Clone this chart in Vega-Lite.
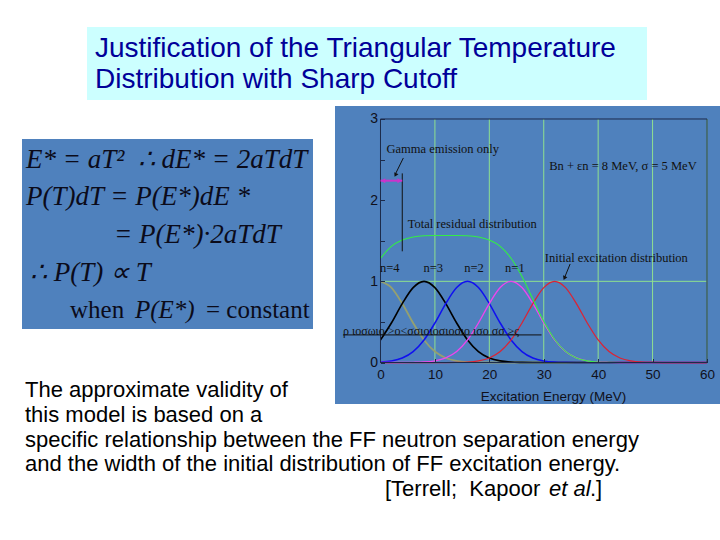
{
  "$schema": "https://vega.github.io/schema/vega-lite/v6.json",
  "background": "white",
  "padding": {"left": 22, "top": 27, "right": 0, "bottom": 0},
  "spacing": 0,
  "config": {"view": {"stroke": null}, "font": "Liberation Sans"},
  "datasets": {
    "title": [
      {"line": 1, "text": "Justification of the Triangular Temperature"},
      {"line": 2, "text": "Distribution with Sharp Cutoff"}
    ],
    "equations": [
      {"line": 1, "part": 1, "text": "E* = aT²\u00a0 ∴ dE* = 2aTdT"},
      {"line": 2, "part": 1, "text": "P(T)dT = P(E*)dE *"},
      {"line": 3, "part": 1, "text": "= P(E*)·2aTdT"},
      {"line": 4, "part": 1, "text": "∴  P(T) ∝ T"},
      {"line": 5, "part": 1, "text": "when"},
      {"line": 5, "part": 2, "text": "P(E*)"},
      {"line": 5, "part": 3, "text": "= constant"}
    ],
    "paragraph": [
      {"line": 1, "part": 1, "text": "The approximate validity of"},
      {"line": 2, "part": 1, "text": "this model is based on a"},
      {"line": 3, "part": 1, "text": "specific relationship between the FF neutron separation energy"},
      {"line": 4, "part": 1, "text": "and the width of the initial distribution of FF excitation energy."},
      {"line": 5, "part": 1, "text": "[Terrell;\u00a0 Kapoor"},
      {"line": 5, "part": 2, "text": "et al"},
      {"line": 5, "part": 3, "text": ".]"}
    ],
    "curves": [
      {"x": 0, "n4": 1, "n3": 0.278, "n2": 0.006, "n1": 0, "init": 0, "total": 1.284},
      {"x": 2, "n4": 0.923, "n3": 0.487, "n2": 0.02, "n1": 0, "init": 0, "total": 1.43},
      {"x": 4, "n4": 0.726, "n3": 0.726, "n2": 0.056, "n1": 0, "init": 0, "total": 1.508},
      {"x": 6, "n4": 0.487, "n3": 0.923, "n2": 0.135, "n1": 0.002, "init": 0, "total": 1.547},
      {"x": 8, "n4": 0.278, "n3": 1, "n2": 0.278, "n1": 0.006, "init": 0, "total": 1.562},
      {"x": 10, "n4": 0.135, "n3": 0.923, "n2": 0.487, "n1": 0.02, "init": 0, "total": 1.565},
      {"x": 12, "n4": 0.056, "n3": 0.726, "n2": 0.726, "n1": 0.056, "init": 0, "total": 1.564},
      {"x": 14, "n4": 0.02, "n3": 0.487, "n2": 0.923, "n1": 0.135, "init": 0.002, "total": 1.565},
      {"x": 16, "n4": 0.006, "n3": 0.278, "n2": 1, "n1": 0.278, "init": 0.006, "total": 1.562},
      {"x": 18, "n4": 0.002, "n3": 0.135, "n2": 0.923, "n1": 0.487, "init": 0.02, "total": 1.547},
      {"x": 20, "n4": 0, "n3": 0.056, "n2": 0.726, "n1": 0.726, "init": 0.056, "total": 1.508},
      {"x": 22, "n4": 0, "n3": 0.02, "n2": 0.487, "n1": 0.923, "init": 0.135, "total": 1.43},
      {"x": 24, "n4": 0, "n3": 0.006, "n2": 0.278, "n1": 1, "init": 0.278, "total": 1.284},
      {"x": 26, "n4": 0, "n3": 0.002, "n2": 0.135, "n1": 0.923, "init": 0.487, "total": 1.06},
      {"x": 28, "n4": 0, "n3": 0, "n2": 0.056, "n1": 0.726, "init": 0.726, "total": 0.782},
      {"x": 30, "n4": 0, "n3": 0, "n2": 0.02, "n1": 0.487, "init": 0.923, "total": 0.507},
      {"x": 32, "n4": 0, "n3": 0, "n2": 0.006, "n1": 0.278, "init": 1, "total": 0.284},
      {"x": 34, "n4": 0, "n3": 0, "n2": 0.002, "n1": 0.135, "init": 0.923, "total": 0.137},
      {"x": 36, "n4": 0, "n3": 0, "n2": 0, "n1": 0.056, "init": 0.726, "total": 0.056},
      {"x": 38, "n4": 0, "n3": 0, "n2": 0, "n1": 0.02, "init": 0.487, "total": 0.02},
      {"x": 40, "n4": 0, "n3": 0, "n2": 0, "n1": 0.006, "init": 0.278, "total": 0.006},
      {"x": 42, "n4": 0, "n3": 0, "n2": 0, "n1": 0.002, "init": 0.135, "total": 0.002},
      {"x": 44, "n4": 0, "n3": 0, "n2": 0, "n1": 0, "init": 0.056, "total": 0},
      {"x": 46, "n4": 0, "n3": 0, "n2": 0, "n1": 0, "init": 0.02, "total": 0},
      {"x": 48, "n4": 0, "n3": 0, "n2": 0, "n1": 0, "init": 0.006, "total": 0},
      {"x": 50, "n4": 0, "n3": 0, "n2": 0, "n1": 0, "init": 0.002, "total": 0},
      {"x": 52, "n4": 0, "n3": 0, "n2": 0, "n1": 0, "init": 0, "total": 0},
      {"x": 54, "n4": 0, "n3": 0, "n2": 0, "n1": 0, "init": 0, "total": 0},
      {"x": 56, "n4": 0, "n3": 0, "n2": 0, "n1": 0, "init": 0, "total": 0},
      {"x": 58, "n4": 0, "n3": 0, "n2": 0, "n1": 0, "init": 0, "total": 0},
      {"x": 60, "n4": 0, "n3": 0, "n2": 0, "n1": 0, "init": 0, "total": 0}
    ],
    "gridx": [{"x": 10}, {"x": 20}, {"x": 30}, {"x": 40}, {"x": 50}, {"x": 60}],
    "notes": [
      {"x": 1.1, "y": 2.63, "label": "Gamma emission only"},
      {"x": 31.0, "y": 2.42, "label": "Bn + εn = 8 MeV, σ = 5 MeV"},
      {"x": 5.0, "y": 1.71, "label": "Total residual distribution"},
      {"x": 30.2, "y": 1.29, "label": "Initial excitation distribution"}
    ],
    "nlabels": [
      {"x": 1.7, "y": 1.16, "label": "n=4"},
      {"x": 9.7, "y": 1.16, "label": "n=3"},
      {"x": 17.2, "y": 1.16, "label": "n=2"},
      {"x": 24.7, "y": 1.16, "label": "n=1"}
    ]
  },
  "vconcat": [
    {
      "spacing": 0,
      "hconcat": [
        {
          "width": 65, "height": 79,
          "data": {"values": [{}]},
          "mark": {"type": "text"},
          "encoding": {"text": {"value": ""}}
        },
        {
          "width": 560, "height": 73,
          "view": {"fill": "#ccffff", "stroke": null},
          "data": {"name": "title"},
          "mark": {"type": "text", "align": "left", "baseline": "alphabetic", "dx": 8, "font": "Liberation Sans", "fontSize": 28, "color": "#000099"},
          "encoding": {
            "x": {"datum": 0, "type": "quantitative", "scale": {"domain": [0, 1], "nice": false, "zero": false}, "axis": null},
            "y": {"field": "line", "type": "quantitative", "scale": {"domain": [0.0601, 2.37], "reverse": true, "nice": false, "zero": false}, "axis": null},
            "text": {"field": "text"}
          }
        }
      ]
    },
    {
      "spacing": 22,
      "hconcat": [
        {
          "spacing": 0,
          "vconcat": [
            {
              "width": 291, "height": 33,
              "data": {"values": [{}]},
              "mark": {"type": "text"},
              "encoding": {"text": {"value": ""}}
            },
            {
              "width": 291, "height": 190,
              "view": {"fill": "#4f81bd", "stroke": null},
              "data": {"name": "equations"},
              "encoding": {
                "x": {"datum": 0, "type": "quantitative", "scale": {"domain": [0, 1], "nice": false, "zero": false}, "axis": null},
                "y": {"field": "line", "type": "quantitative", "scale": {"domain": [0.2267, 5.2933], "reverse": true, "nice": false, "zero": false}, "axis": null},
                "text": {"field": "text"}
              },
              "layer": [
                {
                  "transform": [{"filter": "datum.line <= 2"}],
                  "mark": {"type": "text", "align": "left", "baseline": "alphabetic", "dx": 4, "clip": true, "font": "Liberation Serif", "fontSize": 27, "fontStyle": "italic", "color": "#0b0b1a"}
                },
                {
                  "transform": [{"filter": "datum.line == 3"}],
                  "mark": {"type": "text", "align": "left", "baseline": "alphabetic", "dx": 92, "clip": true, "font": "Liberation Serif", "fontSize": 27, "fontStyle": "italic", "color": "#0b0b1a"}
                },
                {
                  "transform": [{"filter": "datum.line == 4"}],
                  "mark": {"type": "text", "align": "left", "baseline": "alphabetic", "dx": 8, "clip": true, "font": "Liberation Serif", "fontSize": 27, "fontStyle": "italic", "color": "#0b0b1a"}
                },
                {
                  "transform": [{"filter": "datum.line == 5 && datum.part == 1"}],
                  "mark": {"type": "text", "align": "left", "baseline": "alphabetic", "dx": 48, "clip": true, "font": "Liberation Serif", "fontSize": 25, "color": "#0b0b1a"}
                },
                {
                  "transform": [{"filter": "datum.line == 5 && datum.part == 2"}],
                  "mark": {"type": "text", "align": "left", "baseline": "alphabetic", "dx": 113, "clip": true, "font": "Liberation Serif", "fontSize": 25, "fontStyle": "italic", "color": "#0b0b1a"}
                },
                {
                  "transform": [{"filter": "datum.line == 5 && datum.part == 3"}],
                  "mark": {"type": "text", "align": "left", "baseline": "alphabetic", "dx": 184, "clip": true, "font": "Liberation Serif", "fontSize": 25, "color": "#0b0b1a"}
                }
              ]
            },
            {
              "width": 291, "height": 98,
              "data": {"name": "paragraph"},
              "transform": [{"filter": "datum.line <= 2"}],
              "mark": {"type": "text", "align": "left", "baseline": "alphabetic", "dx": 3, "font": "Liberation Sans", "fontSize": 22, "color": "#000000"},
              "encoding": {
                "x": {"datum": 0, "type": "quantitative", "scale": {"domain": [0, 1], "nice": false, "zero": false}, "axis": null},
                "y": {"field": "line", "type": "quantitative", "scale": {"domain": [-1.7, 2.22], "reverse": true, "nice": false, "zero": false}, "axis": null},
                "text": {"field": "text"}
              }
            }
          ]
        },
        {
          "width": 385, "height": 298,
          "view": {"fill": "#4f81bd", "stroke": null},
          "layer": [
            {
              "data": {"name": "curves"},
              "transform": [{"fold": ["n4", "n3", "n2", "n1", "init", "total"], "as": ["series", "value"]}],
              "mark": {"type": "line", "opacity": 0},
              "encoding": {
                "x": {
                  "field": "x", "type": "quantitative",
                  "scale": {"domain": [-8.36, 62.39], "nice": false, "zero": false},
                  "axis": {
                    "orient": "bottom", "offset": -41.5, "values": [0, 10, 20, 30, 40, 50, 60], "zindex": 1,
                    "domain": false, "grid": false, "ticks": true, "tickSize": -4, "tickColor": "#1c2a4a",
                    "labelFont": "Liberation Sans", "labelFontSize": 13.5, "labelColor": "#10101a", "labelPadding": 9,
                    "title": "Excitation Energy (MeV)", "titleFont": "Liberation Sans", "titleFontSize": 13.5,
                    "titleFontWeight": "normal", "titleColor": "#10101a", "titlePadding": 8, "titleX": 218
                  }
                },
                "y": {
                  "field": "value", "type": "quantitative",
                  "scale": {"domain": [-0.511, 3.16], "nice": false, "zero": false},
                  "axis": {
                    "orient": "left", "offset": -45.5, "values": [0, 0.5, 1, 1.5, 2, 2.5, 3], "zindex": 1,
                    "labelExpr": "datum.value % 1 === 0 ? '' + datum.value : ''",
                    "domain": false, "grid": false, "ticks": true, "tickSize": -4, "tickColor": "#1c2a4a",
                    "labelFont": "Liberation Sans", "labelFontSize": 14, "labelColor": "#10101a", "labelPadding": 7,
                    "title": null
                  }
                }
              }
            },
            {
              "data": {"name": "gridx"},
              "mark": {"type": "rule", "color": "#8fe08f", "strokeWidth": 1},
              "encoding": {
                "x": {"field": "x", "type": "quantitative"},
                "y": {"datum": 0},
                "y2": {"datum": 3}
              }
            },
            {
              "data": {"values": [{}]},
              "mark": {"type": "rule", "color": "#8fe08f", "strokeWidth": 1},
              "encoding": {
                "x": {"datum": 0},
                "x2": {"datum": 60},
                "y": {"datum": 1}
              }
            },
            {
              "data": {"name": "curves"},
              "transform": [{"fold": ["n4", "n3", "n2", "n1", "init", "total"], "as": ["series", "value"]}],
              "mark": {"type": "line", "interpolate": "monotone"},
              "encoding": {
                "x": {"field": "x", "type": "quantitative"},
                "y": {"field": "value", "type": "quantitative"},
                "color": {
                  "field": "series", "type": "nominal",
                  "scale": {"domain": ["n4", "n3", "n2", "n1", "init", "total"], "range": ["#94a070", "#000000", "#1010f0", "#ee44ee", "#dd2233", "#33ee44"]},
                  "legend": null
                },
                "strokeWidth": {
                  "field": "series", "type": "nominal",
                  "scale": {"domain": ["n4", "n3", "n2", "n1", "init", "total"], "range": [1.8, 1.1, 1.2, 1.6, 1.8, 2]},
                  "legend": null
                }
              }
            },
            {
              "data": {"values": [{}]},
              "mark": {"type": "rect", "filled": false, "stroke": "#1c2a4a", "strokeWidth": 1},
              "encoding": {
                "x": {"datum": 0},
                "x2": {"datum": 60},
                "y": {"datum": 0},
                "y2": {"datum": 3}
              }
            },
            {
              "data": {"values": [{}]},
              "mark": {"type": "rule", "color": "#111111", "strokeWidth": 1},
              "encoding": {
                "x": {"datum": 4},
                "y": {"datum": 1.37},
                "y2": {"datum": 2.33}
              }
            },
            {
              "data": {"values": [{}]},
              "mark": {"type": "rule", "color": "#cc33cc", "strokeWidth": 2},
              "encoding": {
                "x": {"datum": 0},
                "x2": {"datum": 4},
                "y": {"datum": 2.24}
              }
            },
            {
              "data": {"values": [{}]},
              "mark": {"type": "point", "shape": "triangle-up", "filled": true, "size": 24, "angle": 270, "color": "#cc33cc", "opacity": 1},
              "encoding": {"x": {"datum": 0.5}, "y": {"datum": 2.24}}
            },
            {
              "data": {"values": [{}]},
              "mark": {"type": "point", "shape": "triangle-up", "filled": true, "size": 24, "angle": 90, "color": "#cc33cc", "opacity": 1},
              "encoding": {"x": {"datum": 3.5}, "y": {"datum": 2.24}}
            },
            {
              "data": {"values": [{}]},
              "mark": {"type": "rule", "color": "#111111", "strokeWidth": 1},
              "encoding": {
                "x": {"datum": 4.2},
                "x2": {"datum": 2.8},
                "y": {"datum": 2.52},
                "y2": {"datum": 2.33}
              }
            },
            {
              "data": {"values": [{}]},
              "mark": {"type": "point", "shape": "triangle-up", "filled": true, "size": 22, "angle": 206, "color": "#111111", "opacity": 1},
              "encoding": {"x": {"datum": 2.75}, "y": {"datum": 2.31}}
            },
            {
              "data": {"values": [{}]},
              "mark": {"type": "rule", "color": "#111111", "strokeWidth": 1},
              "encoding": {
                "x": {"datum": 34.85},
                "x2": {"datum": 33.85},
                "y": {"datum": 1.214},
                "y2": {"datum": 1.05}
              }
            },
            {
              "data": {"values": [{}]},
              "mark": {"type": "point", "shape": "triangle-up", "filled": true, "size": 22, "angle": 203, "color": "#111111", "opacity": 1},
              "encoding": {"x": {"datum": 33.8}, "y": {"datum": 1.04}}
            },
            {
              "data": {"values": [{}]},
              "mark": {"type": "rule", "color": "#111111", "strokeWidth": 1},
              "encoding": {
                "x": {"datum": -6.9},
                "x2": {"datum": 29.6},
                "y": {"datum": 0.34}
              }
            },
            {
              "data": {"values": [{"label": "ρ ιοσωιο  >ο<σσιοιοσιοσιο ισο σσ ≥ς"}]},
              "mark": {"type": "text", "align": "left", "baseline": "alphabetic", "font": "Liberation Serif", "fontSize": 12, "color": "#111111"},
              "encoding": {
                "x": {"datum": -6.9},
                "y": {"datum": 0.345},
                "text": {"field": "label"}
              }
            },
            {
              "data": {"name": "notes"},
              "mark": {"type": "text", "align": "left", "baseline": "middle", "font": "Liberation Serif", "fontSize": 12.5, "color": "#111111"},
              "encoding": {
                "x": {"field": "x", "type": "quantitative"},
                "y": {"field": "y", "type": "quantitative"},
                "text": {"field": "label"}
              }
            },
            {
              "data": {"name": "nlabels"},
              "mark": {"type": "text", "align": "center", "baseline": "middle", "font": "Liberation Serif", "fontSize": 12.5, "color": "#111111"},
              "encoding": {
                "x": {"field": "x", "type": "quantitative"},
                "y": {"field": "y", "type": "quantitative"},
                "text": {"field": "label"}
              }
            }
          ]
        }
      ]
    },
    {
      "width": 620, "height": 80,
      "data": {"name": "paragraph"},
      "transform": [{"filter": "datum.line >= 3"}],
      "encoding": {
        "x": {"datum": 0, "type": "quantitative", "scale": {"domain": [0, 1], "nice": false, "zero": false}, "axis": null},
        "y": {"field": "line", "type": "quantitative", "scale": {"domain": [2.212, 5.444], "reverse": true, "nice": false, "zero": false}, "axis": null},
        "text": {"field": "text"}
      },
      "layer": [
        {
          "transform": [{"filter": "datum.line <= 4"}],
          "mark": {"type": "text", "align": "left", "baseline": "alphabetic", "dx": 3, "font": "Liberation Sans", "fontSize": 22, "color": "#000000"}
        },
        {
          "transform": [{"filter": "datum.line == 5 && datum.part == 1"}],
          "mark": {"type": "text", "align": "left", "baseline": "alphabetic", "dx": 363, "font": "Liberation Sans", "fontSize": 22, "color": "#000000"}
        },
        {
          "transform": [{"filter": "datum.line == 5 && datum.part == 2"}],
          "mark": {"type": "text", "align": "left", "baseline": "alphabetic", "dx": 527, "font": "Liberation Sans", "fontSize": 22, "fontStyle": "italic", "color": "#000000"}
        },
        {
          "transform": [{"filter": "datum.line == 5 && datum.part == 3"}],
          "mark": {"type": "text", "align": "left", "baseline": "alphabetic", "dx": 568, "font": "Liberation Sans", "fontSize": 22, "color": "#000000"}
        }
      ]
    }
  ]
}
